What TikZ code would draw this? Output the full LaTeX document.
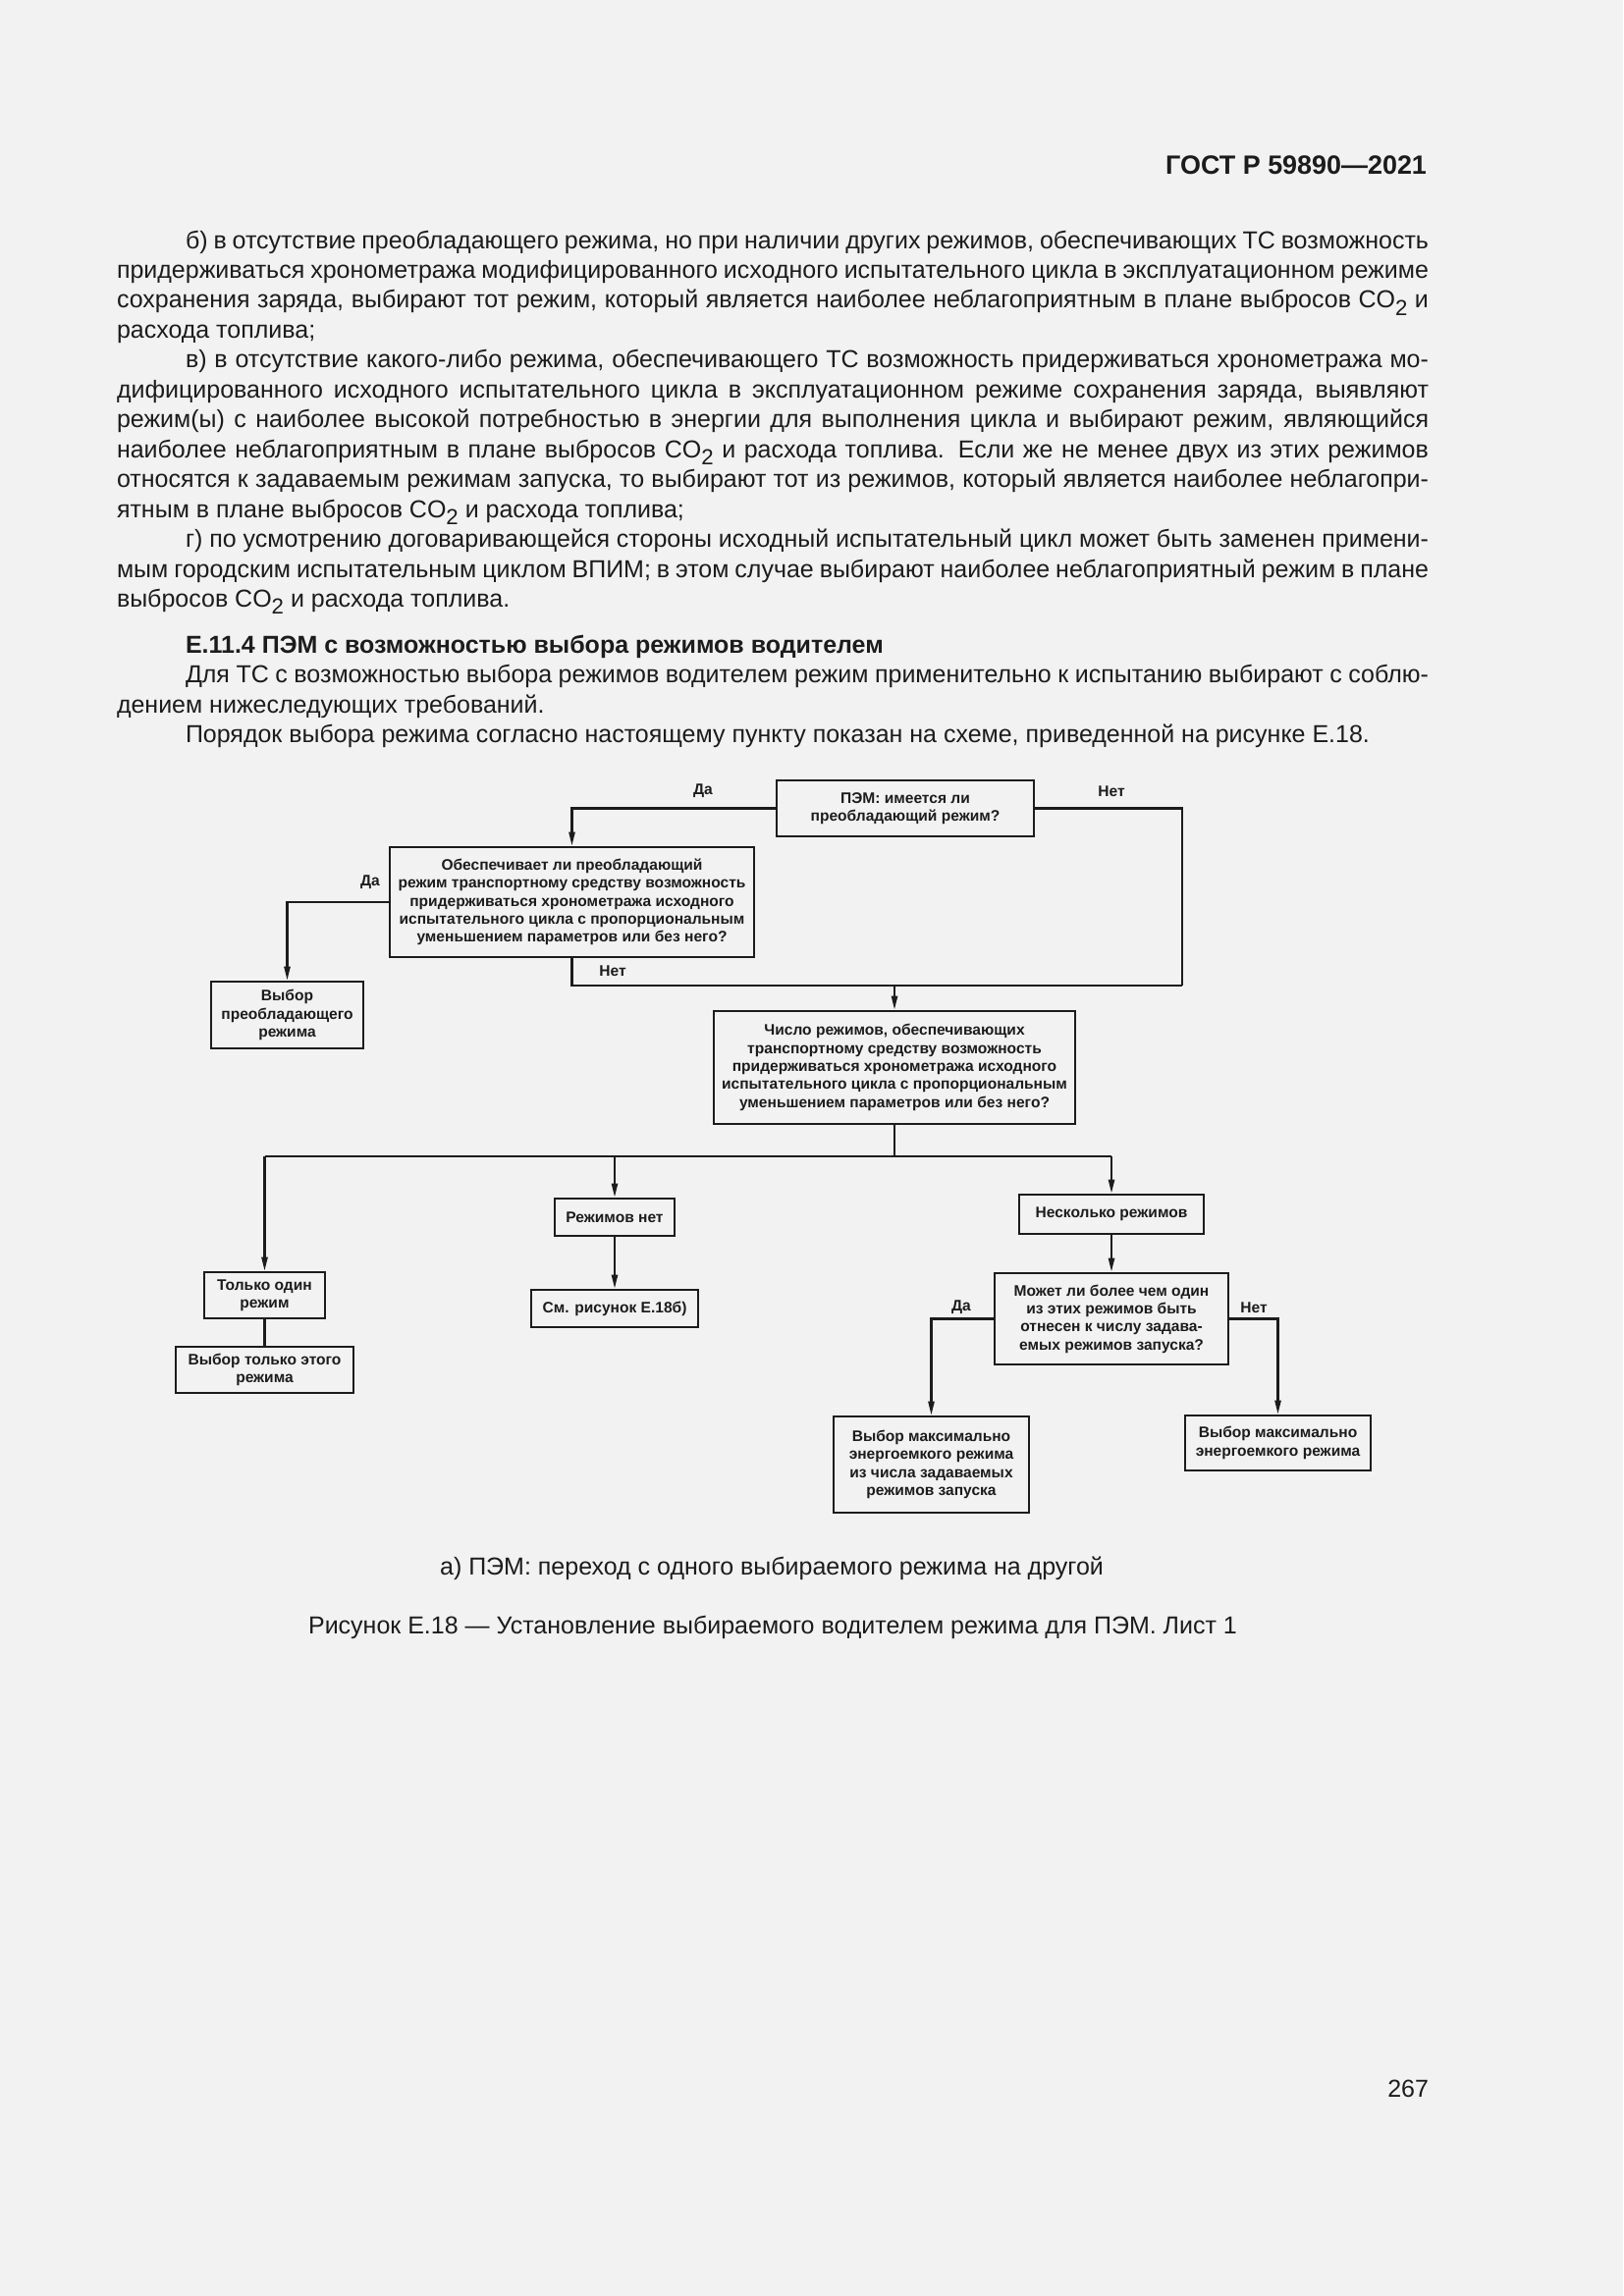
\documentclass[tikz,border=0pt]{standalone}
\usepackage{fontspec}
\setmainfont{Liberation Sans}
\usetikzlibrary{arrows.meta}
\definecolor{pagebg}{RGB}{242,242,242}
\definecolor{ink}{RGB}{28,28,28}
\newcommand\cotwo{CO\raisebox{-0.55ex}{\fontsize{8}{8}\selectfont 2}}
\begin{document}
\begin{tikzpicture}[x=0.36012pt,y=-0.36012pt,
  txt/.style={inner sep=0pt, outer sep=0pt, font=\fontsize{9.0}{11}\selectfont, text=ink},
  bx/.style 2 args={draw=ink, line width=1pt, inner sep=0pt, align=center,
    minimum width=#1*0.36012pt, minimum height=#2*0.36012pt,
    font=\fontsize{5.6}{6.6}\selectfont\bfseries, text=ink},
  lbl/.style={inner sep=0pt, font=\fontsize{5.6}{6.6}\selectfont\bfseries, text=ink},
  ln/.style={draw=ink, line width=0.75pt},
  arr/.style={ln, -{Triangle[length=5pt,width=2.2pt]}}]
\fill[pagebg] (0,0) rectangle (1653,2339);
\useasboundingbox (0,0) rectangle (1653,2339);

% header
\node[txt, anchor=base east, font=\fontsize{9.7}{11}\selectfont\bfseries] (hdr) at (1453,177) {ГОСТ Р 59890—2021};

% paragraph b
\node[txt, anchor=base west] (t1) at (189,253) {\makebox[455.9pt][s]{б) в отсутствие преобладающего режима, но при наличии других режимов, обеспечивающих ТС возможность}};
\node[txt, anchor=base west] (t2) at (119,283.5) {\makebox[481.1pt][s]{придерживаться хронометража модифицированного исходного испытательного цикла в эксплуатационном режиме}};
\node[txt, anchor=base west] (t3) at (119,313.9) {\makebox[481.1pt][s]{сохранения заряда, выбирают тот режим, который является наиболее неблагоприятным в плане выбросов \cotwo{} и}};
\node[txt, anchor=base west] (t4) at (119,344.4) {расхода топлива;};
% paragraph v
\node[txt, anchor=base west] (t5) at (189,374.8) {\makebox[455.9pt][s]{в) в отсутствие какого-либо режима, обеспечивающего ТС возможность придерживаться хронометража мо-}};
\node[txt, anchor=base west] (t6) at (119,405.3) {\makebox[481.1pt][s]{дифицированного исходного испытательного цикла в эксплуатационном режиме сохранения заряда, выявляют}};
\node[txt, anchor=base west] (t7) at (119,435.8) {\makebox[481.1pt][s]{режим(ы) с наиболее высокой потребностью в энергии для выполнения цикла и выбирают режим, являющийся}};
\node[txt, anchor=base west] (t8) at (119,466.2) {\makebox[481.1pt][s]{наиболее неблагоприятным в плане выбросов \cotwo{} и расхода топлива. Если же не менее двух из этих режимов}};
\node[txt, anchor=base west] (t9) at (119,496.7) {\makebox[481.1pt][s]{относятся к задаваемым режимам запуска, то выбирают тот из режимов, который является наиболее неблагопри-}};
\node[txt, anchor=base west] (t10) at (119,527.1) {ятным в плане выбросов \cotwo{} и расхода топлива;};
% paragraph g
\node[txt, anchor=base west] (t11) at (189,557.6) {\makebox[455.9pt][s]{г) по усмотрению договаривающейся стороны исходный испытательный цикл может быть заменен примени-}};
\node[txt, anchor=base west] (t12) at (119,588.1) {\makebox[481.1pt][s]{мым городским испытательным циклом ВПИМ; в этом случае выбирают наиболее неблагоприятный режим в плане}};
\node[txt, anchor=base west] (t13) at (119,618.5) {выбросов \cotwo{} и расхода топлива.};
% heading and following
\node[txt, anchor=base west, font=\fontsize{9.0}{11}\selectfont\bfseries] (t14) at (189,665) {Е.11.4 ПЭМ с возможностью выбора режимов водителем};
\node[txt, anchor=base west] (t15) at (189,695.5) {\makebox[455.9pt][s]{Для ТС с возможностью выбора режимов водителем режим применительно к испытанию выбирают с соблю-}};
\node[txt, anchor=base west] (t16) at (119,726) {дением нижеследующих требований.};
\node[txt, anchor=base west] (t17) at (189,756.5) {Порядок выбора режима согласно настоящему пункту показан на схеме, приведенной на рисунке Е.18.};

% flowchart boxes
\node[bx={262}{57}] (A) at (922,823.5) {ПЭМ: имеется ли\\преобладающий режим?};
\node[bx={371}{112}] (B) at (582.5,919) {Обеспечивает ли преобладающий\\режим транспортному средству возможность\\придерживаться хронометража исходного\\испытательного цикла с пропорциональным\\уменьшением параметров или без него?};
\node[bx={155}{68}] (D) at (292.5,1034) {Выбор\\преобладающего\\режима};
\node[bx={368}{115}] (C) at (911,1087.5) {Число режимов, обеспечивающих\\транспортному средству возможность\\придерживаться хронометража исходного\\испытательного цикла с пропорциональным\\уменьшением параметров или без него?};
\node[bx={123}{47}] (E) at (269.5,1319.5) {Только один\\режим};
\node[bx={181}{47}] (I) at (269.5,1395.5) {Выбор только этого\\режима};
\node[bx={122}{38}] (F) at (626,1240) {Режимов нет};
\node[bx={170}{38}] (H) at (626,1333) {См. рисунок Е.18б)};
\node[bx={188}{40}] (G) at (1132,1237) {Несколько режимов};
\node[bx={238}{93}] (J) at (1132,1343.5) {Может ли более чем один\\из этих режимов быть\\отнесен к числу задава-\\емых режимов запуска?};
\node[bx={199}{98}] (K) at (948.5,1492) {Выбор максимально\\энергоемкого режима\\из числа задаваемых\\режимов запуска};
\node[bx={189}{56}] (L) at (1301.5,1470) {Выбор максимально\\энергоемкого режима};

% labels
\node[lbl] (l1) at (716,806) {Да};
\node[lbl] (l2) at (1132,806) {Нет};
\node[lbl] (l3) at (377,899) {Да};
\node[lbl] (l4) at (624,989) {Нет};
\node[lbl] (l5) at (979,1332) {Да};
\node[lbl] (l6) at (1277,1332) {Нет};

% connectors
\coordinate (c1) at (1204,1004);
\coordinate (c2) at (911,1004);
\draw[arr] (A.west) -| (B.north);
\draw[ln] (A.east) -| (c1);
\draw[ln] (B.south) |- (c1);
\draw[arr] (c2) -- (C.north);
\draw[arr] (B.west) -| (D.north);
\coordinate (bus) at (911,1178);
\coordinate (busL) at (269.5,1178);
\coordinate (busR) at (1132,1178);
\coordinate (busM) at (626,1178);
\draw[ln] (C.south) -- (bus);
\draw[ln] (busL) -- (busR);
\draw[arr] (busL) -- (E.north);
\draw[arr] (busM) -- (F.north);
\draw[arr] (busR) -- (G.north);
\draw[arr] (F.south) -- (H.north);
\draw[ln] (E.south) -- (I.north);
\draw[arr] (G.south) -- (J.north);
\draw[arr] (J.west) -| (K.north);
\draw[arr] (J.east) -| (L.north);

% captions
\node[txt, anchor=base] (cap1) at (786,1604) {а) ПЭМ: переход с одного выбираемого режима на другой};
\node[txt, anchor=base] (cap2) at (787,1664) {Рисунок Е.18 — Установление выбираемого водителем режима для ПЭМ. Лист 1};
\node[txt, anchor=base east] (pg) at (1455,2136) {267};
\end{tikzpicture}
\end{document}
